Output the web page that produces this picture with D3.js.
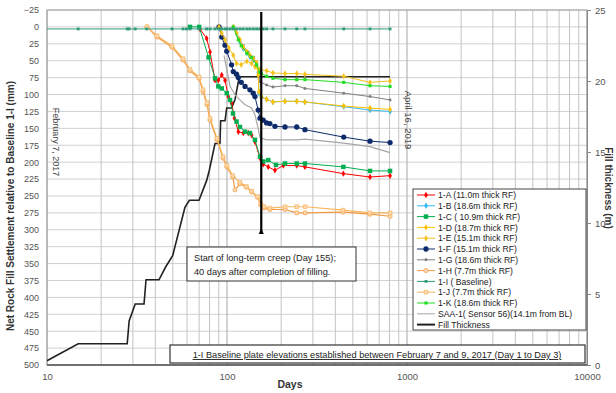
<!DOCTYPE html>
<html>
<head>
<meta charset="utf-8">
<script src="https://cdn.jsdelivr.net/npm/d3@7"></script>
<style>
  body { margin: 0; background: #fff; }
  svg { font-family: "Liberation Sans", Arial, sans-serif; }
  text { white-space: pre; }
</style>
</head>
<body>
<svg id="chart" width="616" height="393"></svg>
<script>
// settlement plates: [day, net settlement mm]
const plate1A = [[70.8,3],[77.1,17],[80.5,37],[85.8,79],[89.5,79],[93.5,71],[97.5,79],[101.7,103],[106,113],[110,135],[115.6,155],[123.3,157],[131.4,157],[137,160],[143,170],[152.5,194],[159,203],[169.5,207],[184.7,212],[205.7,205],[244,205],[271,207],[443,217],[623,222],[805,220]];
const plate1B = [[108.4,0],[113,10],[118,22],[123,32],[129,39],[134,44],[140,49],[146,56],[149,67],[150.5,98],[155,104],[166,107],[180,111],[210,110],[244,110],[271,111],[445,118],[623,123],[805,125]];
const plate1C = [[62.3,0],[70,0],[79,45],[85.8,76],[89.5,88],[93.5,91],[99.7,98],[104,108],[108,128],[113,140],[118,148],[126,155],[134,157],[143,167],[152.5,192],[159,199],[169.5,197],[187,204],[210,202],[244,202],[271,202],[443,207],[623,213],[805,213]];
const plate1D = [[108.4,0],[113,9],[118,19],[123,30],[129,37],[134,42],[140,47],[146,53],[149,71],[150.5,96],[155,103],[166,107],[180,111],[210,110],[244,110],[271,111],[445,117],[623,120],[805,122]];
const plate1E = [[90.3,0],[93.5,9],[97.5,19],[102.5,31],[108.4,42],[113,54],[120,56],[129,51],[137,54],[143,59],[149,62],[152.5,63],[166,65],[180,68],[210,69],[244,69],[271,70],[445,73],[623,82],[805,80]];
const plate1F = [[90.3,0],[93.5,15],[97.5,27],[99.7,36],[106,56],[108.4,66],[113,70],[115.6,75],[120,82],[126,88],[134,93],[140,98],[143,103],[149,123],[152.5,135],[159,138],[166,142],[173,143],[184.7,147],[210,148],[244,148],[271,152],[445,163],[623,169],[805,171]];
const plate1G = [[108.4,0],[115.6,16],[123,28],[131,37],[140,45],[146,53],[152.5,81],[166,86],[180,89],[210,87],[244,87],[271,91],[445,98],[623,103],[805,108]];
const plate1H = [[35.9,0],[40.8,15],[49.5,30],[57,49],[62.3,65],[69.9,76],[73.6,96],[77.4,115],[80.5,138],[88,167],[95,194],[99.8,207],[107.6,222],[110.8,241],[118,232],[128,237],[137,244],[148,252],[154,263],[160.5,268],[173,270],[210,270],[244,275],[272,275],[441,274],[622,277],[805,280]];
const plate1I = [[1,3],[2,3],[3,3],[14.9,3],[27.9,3],[28.6,3],[30.9,3],[35.8,3],[49.5,3],[57,3],[59.5,3],[62.3,3],[70,3],[77,3],[80.5,3],[85.8,3],[90,3],[93.5,3],[97.5,3],[100,3],[104,3],[108,3],[113,3],[118,3],[123,3],[129,3],[134,3],[140,3],[146,3],[152,3],[159,3],[166,3],[180,3],[210,3],[244,3],[271,3],[445,3],[623,3],[805,3]];
const plate1J = [[35.9,0],[40.8,13],[49.5,28],[57,47],[62.3,63],[69.9,74],[73.6,93],[77.4,112],[80.5,135],[88,165],[95,192],[99.8,205],[107.6,220],[118,230],[128,236],[137,243],[148,251],[154,262],[160.5,266],[173,268],[210,266],[244,266],[272,266],[441,271],[622,275],[805,275]];
const plate1K = [[108.4,0],[115.6,19],[120,28],[129,39],[137,45],[146,56],[152.5,67],[155,69],[166,73],[180,76],[210,78],[244,78],[271,78],[445,82],[623,87],[805,88]];
const saa1 = [[96.2,42],[104,88],[111,101],[118,108],[126,115],[137,120],[143,130],[149,150],[152.5,164],[166,167],[180,167],[210,167],[244,167],[271,166],[445,172],[623,177],[805,186]];
// fill thickness: [day, m]
const fillThickness = [[10,0.3],[14.9,1.5],[27.9,1.5],[28.6,3.1],[30.9,4.3],[34.6,4.3],[35.5,6.0],[41.9,6.0],[45.6,6.9],[49.9,7.7],[58.4,11.1],[61.8,11.6],[69.9,11.6],[77.1,13.0],[79.7,13.7],[85.8,15.6],[91.4,15.6],[92.2,17.2],[97.5,17.2],[99.6,18.1],[106,18.1],[110.8,18.7],[117,20.3],[805,20.3]];

const seriesNames = ["1-A (11.0m thick RF)","1-B (18.6m thick RF)","1-C ( 10.9m thick RF)","1-D (18.7m thick RF)","1-E (15.1m thick RF)","1-F (15.1m thick RF)","1-G (18.6m thick RF)","1-H (7.7m thick RF)","1-I ( Baseline)","1-J (7.7m thick RF)","1-K (18.6m thick RF)","SAA-1( Sensor 56)(14.1m from BL)","Fill Thickness"];
const seriesData = [plate1A, plate1B, plate1C, plate1D, plate1E, plate1F, plate1G, plate1H, plate1I, plate1J, plate1K, saa1, fillThickness];
const leftTicks = d3.range(-25, 501, 25);
const rightTicks = [0, 5, 10, 15, 20, 25];
const xTicks = [10, 100, 1000, 10000];
const creepDay = 155;

// look of each series, same order as the names
const looks = [
  {c: "#ff0000", sym: d3.symbolDiamond, sz: 12, open: false, w: 1},
  {c: "#33b8f0", sym: d3.symbolDiamond, sz: 12, open: false, w: 1},
  {c: "#00b050", sym: d3.symbolSquare, sz: 20, open: false, w: 1},
  {c: "#ffc000", sym: d3.symbolDiamond, sz: 12, open: false, w: 1},
  {c: "#f5c21b", sym: d3.symbolDiamond, sz: 12, open: false, w: 1},
  {c: "#0d2a6b", sym: d3.symbolCircle, sz: 22, open: false, w: 1},
  {c: "#7f7f7f", sym: d3.symbolCircle, sz: 7, open: false, w: 1},
  {c: "#f39a45", sym: d3.symbolCircle, sz: 14, open: true, w: 1.2},
  {c: "#2e9a78", sym: d3.symbolSquare, sz: 8, open: false, w: 1},
  {c: "#f8b55e", sym: d3.symbolSquare, sz: 14, open: true, w: 1.2},
  {c: "#22dd22", sym: d3.symbolSquare, sz: 10, open: false, w: 1},
  {c: "#a6a6a6", sym: null, sz: 0, open: false, w: 1.2},
  {c: "#222222", sym: null, sz: 0, open: false, w: 1.6}
];

const svg = d3.select("#chart");
const L = 47, R = 587, T = 10, B = 365;

const x = d3.scaleLog().domain([10, 10000]).range([L, R]);
const y = d3.scaleLinear().domain([-25, 500]).range([T, B]);
const y2 = d3.scaleLinear().domain([0, 25]).range([B, T]);

svg.append("defs").append("clipPath").attr("id", "plot-clip")
  .append("rect").attr("x", L).attr("y", T).attr("width", R - L).attr("height", B - T);

// grid
const grid = svg.append("g");
grid.selectAll(".hg").data(leftTicks).join("line")
  .attr("x1", L).attr("x2", R).attr("y1", d => y(d)).attr("y2", d => y(d))
  .attr("stroke", "#d0d0d0").attr("stroke-width", 1);
grid.selectAll(".vg").data(x.ticks()).join("line")
  .attr("x1", d => x(d)).attr("x2", d => x(d)).attr("y1", T).attr("y2", B)
  .attr("stroke", d => xTicks.includes(d) ? "#a8a8a8" : "#c4c4c4").attr("stroke-width", 1);

// frame
svg.append("rect").attr("x", L).attr("y", T).attr("width", R - L).attr("height", B - T)
  .attr("fill", "none").attr("stroke", "#a0a0a0");
svg.append("line").attr("x1", L).attr("x2", R).attr("y1", B).attr("y2", B)
  .attr("stroke", "#555").attr("stroke-width", 1.5);

// axes labels
svg.append("g").attr("transform", `translate(${L},0)`)
  .call(d3.axisLeft(y).tickValues(leftTicks).tickSize(0).tickPadding(8))
  .call(g => g.select(".domain").remove())
  .selectAll("text").attr("font-size", 9).attr("fill", "#555").attr("font-family", "Liberation Sans, Arial");
svg.append("g").attr("transform", `translate(${R},0)`)
  .call(d3.axisRight(y2).tickValues(rightTicks).tickSize(4).tickPadding(4))
  .call(g => g.select(".domain").attr("stroke", "#888"))
  .call(g => g.selectAll("line").attr("stroke", "#888"))
  .selectAll("text").attr("font-size", 9.5).attr("fill", "#555").attr("font-family", "Liberation Sans, Arial");
svg.append("g").attr("transform", `translate(0,${B})`)
  .call(d3.axisBottom(x).tickValues(xTicks).tickFormat(d3.format("d")).tickSize(0).tickPadding(8))
  .call(g => g.select(".domain").remove())
  .selectAll("text").attr("font-size", 9.5).attr("fill", "#555").attr("font-family", "Liberation Sans, Arial");

// axis titles
svg.append("text").attr("transform", `translate(14,206) rotate(-90)`)
  .attr("text-anchor", "middle").attr("font-size", 10).attr("font-weight", "bold").attr("fill", "#333")
  .text("Net Rock Fill Settlement relative to Baseline 1-I (mm)");
svg.append("text").attr("transform", `translate(605,188) rotate(90)`)
  .attr("text-anchor", "middle").attr("font-size", 10).attr("font-weight", "bold").attr("fill", "#333")
  .text("Fill thickness (m)");
svg.append("text").attr("x", 290).attr("y", 388)
  .attr("text-anchor", "middle").attr("font-size", 10.5).attr("font-weight", "bold").attr("fill", "#333")
  .text("Days");

// date labels
svg.append("text").attr("transform", `translate(53,142) rotate(90)`)
  .attr("text-anchor", "middle").attr("font-size", 9).attr("fill", "#444").text("February 7, 2017");
svg.append("text").attr("transform", `translate(405,120) rotate(90)`)
  .attr("text-anchor", "middle").attr("font-size", 9.5).attr("fill", "#444").text("April 16, 2019");

// series
const plot = svg.append("g").attr("clip-path", "url(#plot-clip)");
const line = d3.line().x(d => x(d[0])).y(d => y(d[1]));
const fillLine = d3.line().x(d => x(d[0])).y(d => y2(d[1]));

const drawOrder = [12, 11, 7, 9, 0, 2, 5, 6, 1, 3, 4, 10, 8];
drawOrder.forEach(i => {
  const lk = looks[i];
  const data = seriesData[i];
  plot.append("path").datum(data)
    .attr("d", i === 12 ? fillLine : line)
    .attr("fill", "none").attr("stroke", lk.c).attr("stroke-width", lk.w);
  if (lk.sym) {
    plot.selectAll(null).data(data).join("path")
      .attr("transform", d => `translate(${x(d[0])},${y(d[1])})`)
      .attr("d", d3.symbol().type(lk.sym).size(lk.sz))
      .attr("fill", lk.open ? "#fcd9b0" : lk.c)
      .attr("stroke", lk.c).attr("stroke-width", lk.open ? 0.7 : 0);
  }
});

// start of long-term creep marker
const cx = x(creepDay);
svg.append("line").attr("x1", cx).attr("x2", cx).attr("y1", T + 2).attr("y2", 232)
  .attr("stroke", "#000").attr("stroke-width", 2.2);
svg.append("path").attr("d", `M${cx - 2.5},234 L${cx + 2.5},234 L${cx},228 Z`).attr("fill", "#000");

const note1 = svg.append("g");
note1.append("rect").attr("x", 187).attr("y", 247).attr("width", 169).attr("height", 34)
  .attr("fill", "#fff").attr("stroke", "#333").attr("stroke-width", 1);
note1.append("text").attr("x", 194).attr("y", 261).attr("font-size", 9.2).attr("fill", "#222")
  .text("Start of long-term creep (Day 155);");
note1.append("text").attr("x", 194).attr("y", 275).attr("font-size", 9.2).attr("fill", "#222")
  .text("40 days after completion of filling.");

const note2 = svg.append("g");
note2.append("rect").attr("x", 170).attr("y", 345).attr("width", 415).attr("height", 18)
  .attr("fill", "#fff").attr("stroke", "#333").attr("stroke-width", 1.2);
note2.append("text").attr("x", 377).attr("y", 358).attr("text-anchor", "middle")
  .attr("font-size", 9.2).attr("fill", "#222").attr("text-decoration", "underline")
  .text("1-I Baseline plate elevations established between February 7 and 9, 2017 (Day 1 to Day 3)");

// legend
const lg = svg.append("g");
lg.append("rect").attr("x", 413).attr("y", 189).attr("width", 173).attr("height", 141)
  .attr("fill", "#fff").attr("stroke", "#444").attr("stroke-width", 1);
seriesNames.forEach((name, i) => {
  const lk = looks[i];
  const ly = 195 + i * 10.8;
  lg.append("line").attr("x1", 417).attr("x2", 435).attr("y1", ly).attr("y2", ly)
    .attr("stroke", lk.c).attr("stroke-width", i === 12 ? 2 : 1);
  if (lk.sym) {
    lg.append("path").attr("transform", `translate(426,${ly})`)
      .attr("d", d3.symbol().type(lk.sym).size(lk.sz))
      .attr("fill", lk.open ? "#fcd9b0" : lk.c)
      .attr("stroke", lk.c).attr("stroke-width", lk.open ? 0.7 : 0);
  }
  lg.append("text").attr("x", 438).attr("y", ly + 3.2).attr("font-size", 8.6).attr("fill", "#222")
    .text(name);
});
</script>
</body>
</html>
